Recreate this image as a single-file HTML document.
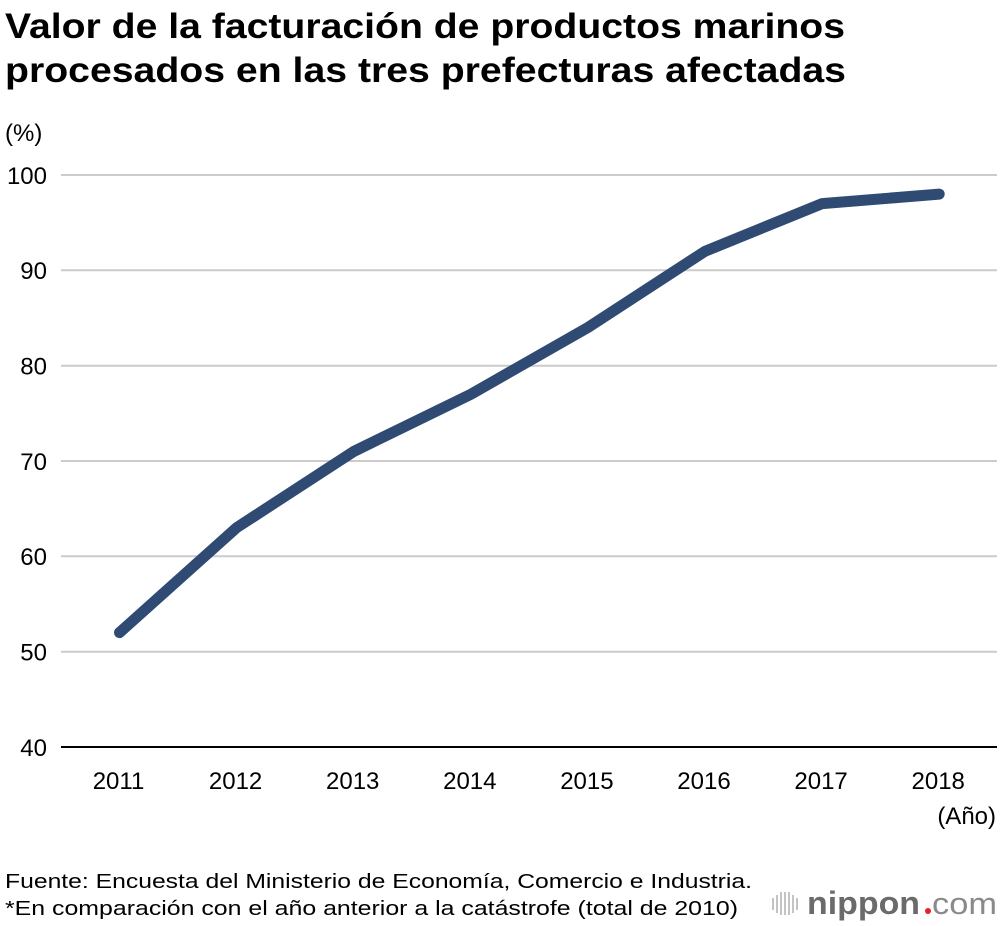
<!DOCTYPE html>
<html>
<head>
<meta charset="utf-8">
<style>
  html, body { margin: 0; padding: 0; background: #ffffff; }
  body { width: 1000px; height: 926px; overflow: hidden; }
  svg { display: block; }
  text { font-family: "Liberation Sans", Arial, Helvetica, sans-serif; }
</style>
</head>
<body>
<svg width="1000" height="926" viewBox="0 0 1000 926" xmlns="http://www.w3.org/2000/svg">
  <rect width="1000" height="926" fill="#ffffff"/>

  <!-- Title -->
  <text x="5" y="38" font-size="35" font-weight="bold" fill="#000" textLength="840" lengthAdjust="spacingAndGlyphs">Valor de la facturación de productos marinos</text>
  <text x="5" y="82" font-size="35" font-weight="bold" fill="#000" textLength="841" lengthAdjust="spacingAndGlyphs">procesados en las tres prefecturas afectadas</text>

  <!-- Unit -->
  <text x="5" y="141" font-size="24" fill="#000">(%)</text>

  <!-- Gridlines -->
  <g stroke="#cccccc" stroke-width="2">
    <line x1="61" y1="175" x2="997" y2="175"/>
    <line x1="61" y1="270.3" x2="997" y2="270.3"/>
    <line x1="61" y1="365.7" x2="997" y2="365.7"/>
    <line x1="61" y1="461" x2="997" y2="461"/>
    <line x1="61" y1="556.3" x2="997" y2="556.3"/>
    <line x1="61" y1="651.7" x2="997" y2="651.7"/>
  </g>
  <line x1="61" y1="747" x2="997" y2="747" stroke="#000" stroke-width="2"/>

  <!-- Y labels -->
  <g font-size="24" fill="#000" text-anchor="end">
    <text x="47" y="184">100</text>
    <text x="47" y="279">90</text>
    <text x="47" y="374.5">80</text>
    <text x="47" y="470">70</text>
    <text x="47" y="565">60</text>
    <text x="47" y="660.5">50</text>
    <text x="47" y="756">40</text>
  </g>

  <!-- X labels -->
  <g font-size="24" fill="#000" text-anchor="middle">
    <text x="118.5" y="789">2011</text>
    <text x="235.6" y="789">2012</text>
    <text x="352.7" y="789">2013</text>
    <text x="469.8" y="789">2014</text>
    <text x="586.9" y="789">2015</text>
    <text x="704" y="789">2016</text>
    <text x="821.1" y="789">2017</text>
    <text x="938.2" y="789">2018</text>
  </g>
  <text x="996" y="824" font-size="24" fill="#000" text-anchor="end">(Año)</text>

  <!-- Data line -->
  <polyline fill="none" stroke="#2f4b74" stroke-width="11" stroke-linecap="round" stroke-linejoin="round"
    points="119.5,632.6 236.6,527.7 353.7,451.5 470.8,394.3 587.9,327.5 705,251.3 822.1,203.6 939.2,194.1"/>

  <!-- Footer -->
  <text x="5" y="888" font-size="20.5" fill="#000" textLength="747" lengthAdjust="spacingAndGlyphs">Fuente: Encuesta del Ministerio de Economía, Comercio e Industria.</text>
  <text x="5" y="915" font-size="20.5" fill="#000" textLength="733" lengthAdjust="spacingAndGlyphs">*En comparación con el año anterior a la catástrofe (total de 2010)</text>

  <!-- nippon.com logo -->
  <g fill="#c4c4c4">
    <rect x="772" y="898" width="2" height="12"/>
    <rect x="776" y="895" width="2" height="18"/>
    <rect x="780" y="892" width="2" height="23"/>
    <rect x="784" y="892" width="2" height="23"/>
    <rect x="788" y="892" width="2" height="23"/>
    <rect x="792" y="895" width="2" height="18"/>
    <rect x="796" y="898" width="2" height="12"/>
  </g>
  <text x="807" y="914" font-size="32" font-weight="bold" fill="#6b6b6b" textLength="113" lengthAdjust="spacingAndGlyphs">nippon</text>
  <circle cx="928" cy="911" r="3" fill="#e8202a"/>
  <text x="932" y="914" font-size="31" fill="#8a8a8a" textLength="65" lengthAdjust="spacingAndGlyphs">com</text>
</svg>
</body>
</html>
